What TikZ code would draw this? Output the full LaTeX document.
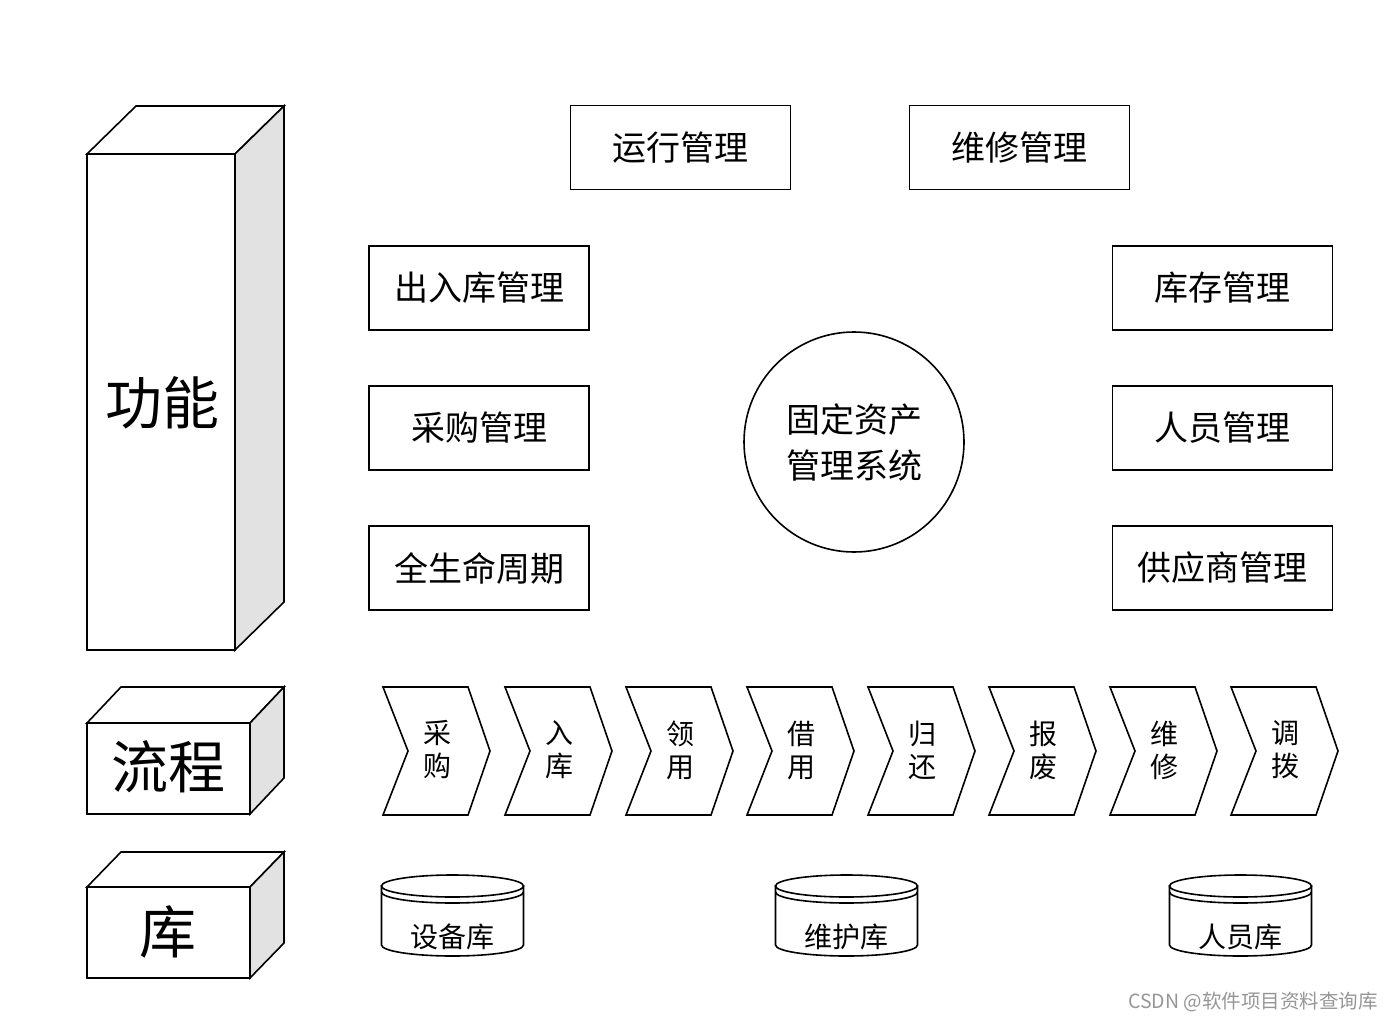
\documentclass[tikz,border=0pt]{standalone}
\usepackage{fontspec}
\setmainfont{Noto Sans CJK SC}
\definecolor{sidegray}{RGB}{226,226,226}
\definecolor{markgray}{RGB}{150,150,150}
\tikzset{
  mbox/.style={draw, line width=1.6pt, minimum width=220pt, minimum height=84pt, inner sep=0pt, font=\fontsize{34}{40}\selectfont},
  chevshape/.style={draw, fill=white, line width=1.6pt, line join=miter},
  chevtext/.style={font=\fontsize{28}{33}\selectfont, align=center, inner sep=0pt},
  cubeline/.style={draw, line width=1.6pt, line join=miter},
  bigtext/.style={font=\fontsize{57}{60}\selectfont, inner sep=0pt},
  cyltext/.style={font=\fontsize{28}{30}\selectfont, inner sep=0pt},
}
\begin{document}
\begin{tikzpicture}[x=1pt,y=-1pt]
\useasboundingbox (0,0) rectangle (1394,1022);
\fill[white] (0,0) rectangle (1394,1022);

% ---- tall cuboid: 功能
\filldraw[cubeline, fill=white] (87,154) -- (136,106) -- (284,106) -- (235,154) -- cycle;
\filldraw[cubeline, fill=sidegray] (235,154) -- (284,106) -- (284,602) -- (235,650) -- cycle;
\filldraw[cubeline, fill=white] (87,154) rectangle (235,650);
\node[bigtext] (gongneng) at (162,403) {功能};

% ---- cuboid: 流程
\filldraw[cubeline, fill=white] (87,723) -- (121,687) -- (284,687) -- (250,723) -- cycle;
\filldraw[cubeline, fill=sidegray] (250,723) -- (284,687) -- (284,778) -- (250,814) -- cycle;
\filldraw[cubeline, fill=white] (87,723) rectangle (250,814);
\node[bigtext] (liucheng) at (168,767) {流程};

% ---- cuboid: 库
\filldraw[cubeline, fill=white] (87,887) -- (121,852) -- (284,852) -- (250,887) -- cycle;
\filldraw[cubeline, fill=sidegray] (250,887) -- (284,852) -- (284,943) -- (250,978) -- cycle;
\filldraw[cubeline, fill=white] (87,887) rectangle (250,978);
\node[bigtext] (ku) at (168,932) {库};

% ---- function boxes
\node[mbox] (yunxing) at (680.5,147.5) {运行管理};
\node[mbox] (weixiu)  at (1019.5,147.5) {维修管理};
\node[mbox] (churuku) at (479,288) {出入库管理};
\node[mbox] (caigou)  at (479,428) {采购管理};
\node[mbox] (quansheng) at (479,568) {全生命周期};
\node[mbox] (kucun)   at (1222.5,288) {库存管理};
\node[mbox] (renyuan) at (1222.5,428) {人员管理};
\node[mbox] (gongying) at (1222.5,568) {供应商管理};

% ---- centre circle
\node[draw, circle, line width=1.6pt, minimum size=220pt, inner sep=0pt, align=center,
      font=\fontsize{34}{46}\selectfont] (core) at (854,442) {固定资产\\管理系统};

% ---- process chevrons
\foreach \x/\t/\n in {383/采\\购/c1, 505/入\\库/c2, 626/领\\用/c3, 747/借\\用/c4,
                      868/归\\还/c5, 989/报\\废/c6, 1110/维\\修/c7, 1231/调\\拨/c8}{
  \filldraw[chevshape] (\x,687) -- ++(85,0) -- ++(22,64) -- ++(-22,64) -- ++(-85,0) -- ++(25,-64) -- cycle;
  \node[chevtext] (\n) at (\x+54,750) {\t};
}

% ---- database cylinders
\foreach \cx/\t/\n in {452.5/设备库/d1, 846.5/维护库/d2, 1240.5/人员库/d3}{
  \filldraw[draw, fill=white, line width=1.6pt] (\cx-71,886) -- (\cx-71,945)
     arc[start angle=180, end angle=360, x radius=71pt, y radius=11pt] -- (\cx+71,886) -- cycle;
  \filldraw[draw, fill=white, line width=1.6pt] (\cx,886) ellipse [x radius=71pt, y radius=11pt];
  \draw[line width=1.6pt] (\cx-71,892) arc[start angle=180, end angle=360, x radius=71pt, y radius=11pt];
  \node[cyltext] (\n) at (\cx,937) {\t};
}

% ---- watermark
\node[font=\fontsize{19.5}{21}\selectfont, text=markgray, inner sep=0pt] (mark) at (1253,1002) {CSDN @软件项目资料查询库};
\end{tikzpicture}
\end{document}
